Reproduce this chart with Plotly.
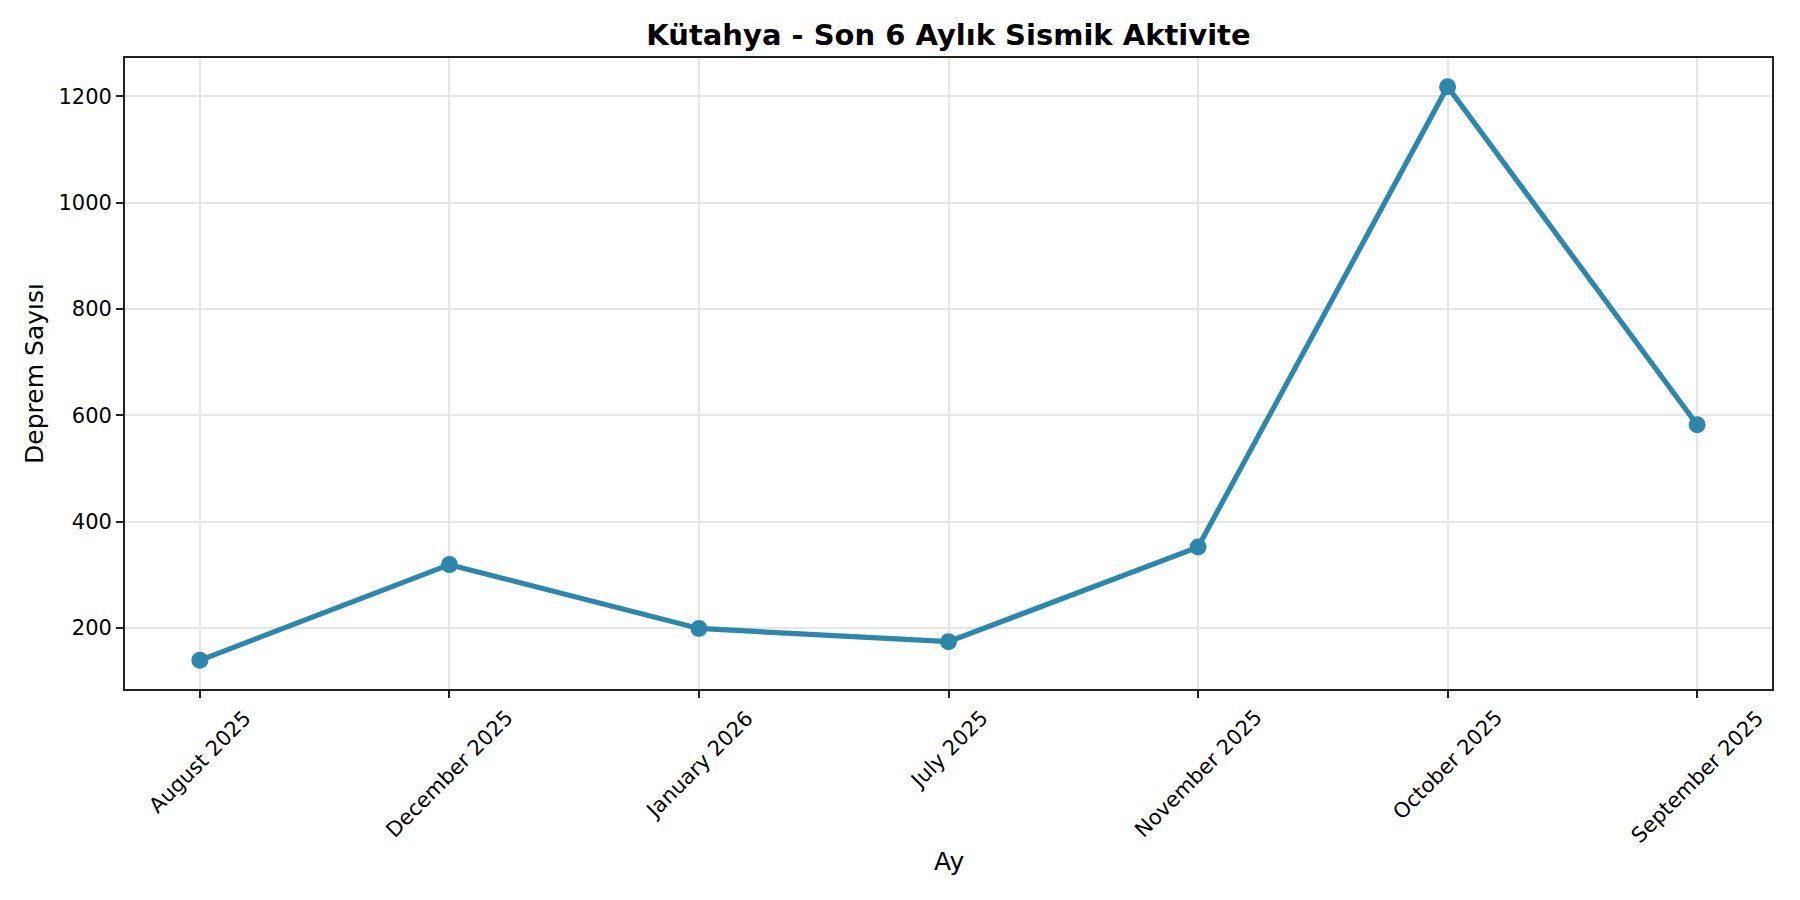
import plotly.graph_objects as go

months = ["August 2025", "December 2025", "January 2026", "July 2025",
          "November 2025", "October 2025", "September 2025"]
counts = [139, 319, 199, 174, 352, 1218, 582]
y_ticks = [200, 400, 600, 800, 1000, 1200]

title_text = "Kütahya - Son 6 Aylık Sismik Aktivite"
x_title = "Ay"
y_title = "Deprem Sayısı"

FONT = "DejaVu Sans"
LINE = "#2E86AB"
AXC = "#222222"

# page body has an 8px offset; figure is sized to end at the window edge
W, H = 1792, 892
fig = go.Figure()
fig.add_trace(go.Scatter(
    x=list(range(len(months))), y=counts,
    mode="lines+markers",
    line=dict(color=LINE, width=5.2),
    marker=dict(color=LINE, size=17),
    showlegend=False,
))

ymin, ymax = min(counts), max(counts)
pad = (ymax - ymin) * 0.05

annotations = []
for i, m in enumerate(months):
    annotations.append(dict(
        text=m, x=i, xref="x", y=0, yref="paper",
        xanchor="center", yanchor="top", yshift=-14,
        textangle=-45, showarrow=False,
        font=dict(family=FONT, size=21, color="black"),
    ))
annotations.append(dict(
    text=x_title, x=0.5, xref="paper", y=0, yref="paper",
    xanchor="center", yanchor="middle", yshift=-172, showarrow=False,
    font=dict(family=FONT, size=25, color="black"),
))

fig.update_layout(
    width=W, height=H,
    paper_bgcolor="white", plot_bgcolor="white",
    margin=dict(l=117, r=28, t=50, b=211),
    font=dict(family=FONT, color="black", size=21),
    title=dict(text="<b>" + title_text + "</b>", x=0.5, xref="paper", xanchor="center",
               y=1 - 26.5 / H, yanchor="middle", yref="container",
               font=dict(family=FONT, size=29, color="black")),
    annotations=annotations,
)
fig.update_xaxes(
    range=[-0.3, len(months) - 1 + 0.3],
    tickmode="array", tickvals=list(range(len(months))),
    showticklabels=False,
    ticks="outside", ticklen=7, tickwidth=1.7, tickcolor=AXC,
    showline=True, linecolor=AXC, linewidth=1.7, mirror=True,
    showgrid=True, gridcolor="#e6e6e6", gridwidth=1.7,
    zeroline=False,
    automargin=False,
)
fig.update_yaxes(
    range=[ymin - pad, ymax + pad],
    tickmode="array", tickvals=y_ticks, ticktext=[str(v) for v in y_ticks],
    ticks="outside", ticklen=7, tickwidth=1.7, tickcolor=AXC,
    showline=True, linecolor=AXC, linewidth=1.7, mirror=True,
    showgrid=True, gridcolor="#e6e6e6", gridwidth=1.7,
    zeroline=False,
    tickfont=dict(family=FONT, size=21, color="black"),
    title=dict(text=y_title, standoff=8, font=dict(family=FONT, size=25, color="black")),
    automargin=False,
)

fig.write_html("out.html")
